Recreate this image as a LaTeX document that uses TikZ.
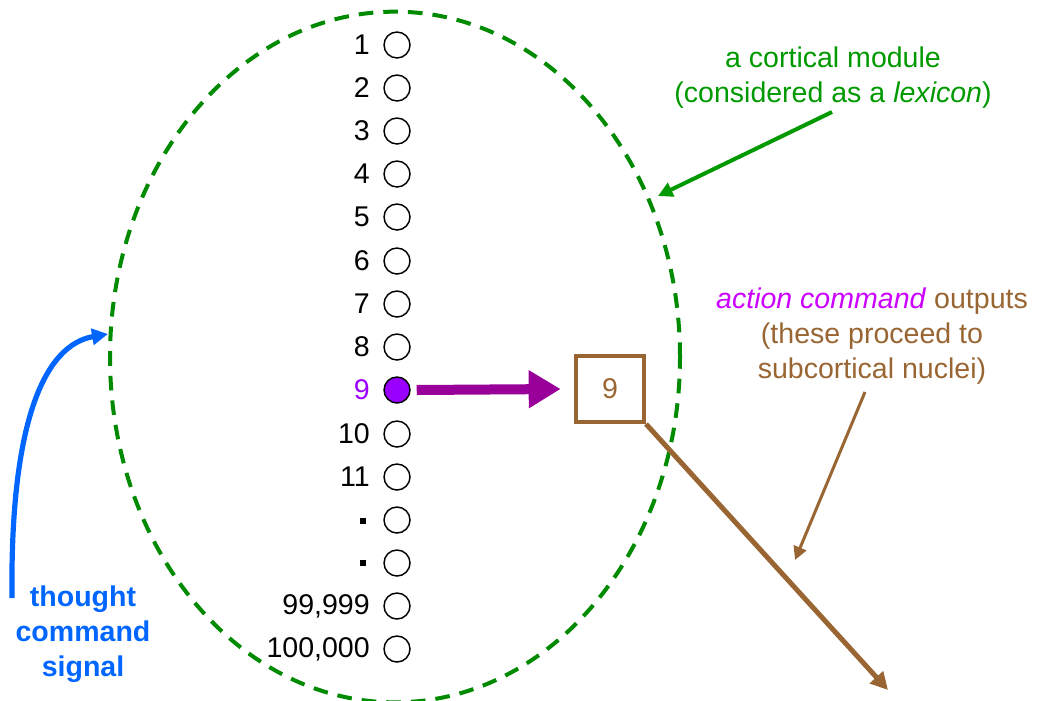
\documentclass[tikz,border=0pt]{standalone}
\usepackage{fontspec}
\setmainfont{Liberation Sans}
\usetikzlibrary{arrows.meta,shapes.geometric}
\definecolor{dgreen}{HTML}{008A00}
\definecolor{tgreen}{HTML}{009900}
\definecolor{tblue}{HTML}{0066FF}
\definecolor{brown}{HTML}{996633}
\definecolor{darkpurple}{HTML}{990099}
\definecolor{vpurple}{HTML}{9900FF}
\definecolor{magentat}{HTML}{CC00FF}
\tikzset{
  x=0.75pt, y=-0.75pt,
  txt/.style={font=\fontsize{21.4}{26.3}\selectfont, inner sep=0pt, align=center},
  unit/.style={circle, draw=black, line width=1.1pt, minimum size=19.5pt, inner sep=0pt},
  lab/.style={font=\fontsize{21.4}{26.3}\selectfont, inner sep=0pt, anchor=east},
  dotmark/.style={rectangle, fill=black, minimum size=4pt, inner sep=0pt},
}
\begin{document}
\begin{tikzpicture}
\useasboundingbox (0,0) rectangle (1037,700);
% module ellipse
\node[ellipse, draw=dgreen, line width=3pt, dash pattern=on 11pt off 7.5pt,
      minimum width=427.5pt, minimum height=518pt, inner sep=0pt] (module) at (395,357) {};
% units
\foreach \i/\y/\t in {1/45/1, 2/88/2, 3/131/3, 4/174/4, 5/217/5, 6/261/6, 7/304/7, 8/347/8,
                      10/434/10, 11/477/11, 14/606/{99,999}, 15/649/{100,000}} {
  \node[unit] (u\i) at (397,\y) {};
  \node[lab] (l\i) at (370,\y) {\t};
}
\node[unit] (u12) at (397,520) {};
\node[dotmark] (l12) at (363,521) {};
\node[unit] (u13) at (397,563) {};
\node[dotmark] (l13) at (363,563) {};
\node[unit, fill=vpurple] (u9) at (397,390) {};
\node[lab, text=vpurple] (l9) at (370,390) {9};
% output box
\node[draw=brown, line width=3pt, minimum width=51pt, minimum height=49.5pt, inner sep=0pt,
      font=\fontsize{21.4}{26.3}\selectfont, text=brown] (box) at (610,389) {9};
\draw[darkpurple, line width=7.5pt, -{Triangle[length=24pt,width=27pt]}]
  (u9.east) ++(6,0) coordinate (ps) (ps) -- ([xshift=-10pt]box.west);
\coordinate (outend) at (888,690);
\draw[brown, line width=3.75pt, -{Triangle[length=13pt,width=13pt]}]
  (box.south east) -- (outend);
% labels
\node[txt, text=tgreen] (modlab) at (833,78) {a cortical module\\(considered as a \textit{lexicon})};
\coordinate (modtip) at (658,196);
\draw[tgreen, line width=3pt, -{Triangle[length=11pt,width=11pt]}] (832,112) -- (modtip);
\node[txt, text=brown] (outlab) at (872,336) {\textcolor{magentat}{\textit{action command}} outputs\\(these proceed to\\subcortical nuclei)};
\coordinate (outtip) at (795,560);
\draw[brown, line width=2.25pt, -{Triangle[length=10pt,width=10pt]}] (865,392) -- (outtip);
\node[txt, text=tblue, font=\fontsize{21.4}{26.3}\selectfont\bfseries] (thought) at (83,634) {thought\\command\\signal};
\coordinate (tstart) at (12,598);
\coordinate (ttip) at (108,334);
\draw[tblue, line width=3.9pt, -{Triangle[length=12pt,width=12pt]}]
  (tstart) .. controls (10,420) and (45,345) .. (ttip);
\end{tikzpicture}
\end{document}
